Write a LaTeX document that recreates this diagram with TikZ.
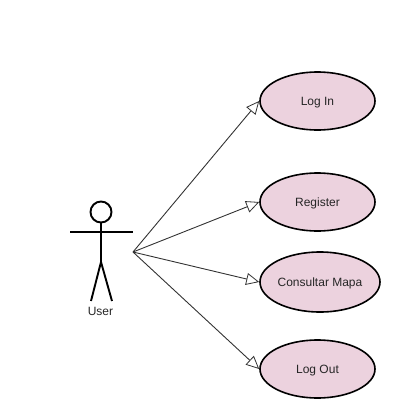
\documentclass[tikz,border=0pt]{standalone}
\usepackage{fontspec}
\setmainfont{Liberation Sans}
\usetikzlibrary{arrows.meta,shapes.geometric}
\definecolor{ucfill}{RGB}{236,210,222}
\tikzset{
  usecase/.style={ellipse,draw=black,line width=1.6pt,fill=ucfill,inner sep=0pt,font=\fontsize{12}{14}\selectfont,text=black!85,text height=8.6pt,text depth=0pt},
  actorline/.style={draw=black,line width=1.9pt},
  assoc/.style={draw=black!80,line width=0.9pt,-{Triangle[open,fill=white,length=13pt,width=12pt,line width=0.8pt]}}
}
\begin{document}
\begin{tikzpicture}[x=1pt,y=-1pt]
\useasboundingbox (0,0) rectangle (405,418);
\node[usecase,minimum width=115pt,minimum height=58pt] (login) at (317.5,101) {Log In};
\node[usecase,minimum width=115pt,minimum height=58pt] (register) at (317.5,202) {Register};
\node[usecase,minimum width=120pt,minimum height=60pt] (mapa) at (320,282) {Consultar Mapa};
\node[usecase,minimum width=115pt,minimum height=58pt] (logout) at (317.5,369) {Log Out};
\node[circle,actorline,minimum size=21pt,inner sep=0pt] (head) at (101,212) {};
\coordinate (armL) at (70,232);
\coordinate (armR) at (133,232);
\coordinate (hip) at (101,262);
\coordinate (footL) at (91,301);
\coordinate (footR) at (112,301);
\coordinate (src) at (133,252);
\draw[actorline] (armL) -- (armR);
\draw[actorline] (head.south) -- (hip);
\draw[actorline] (footL) -- (hip) -- (footR);
\node[font=\fontsize{12}{14}\selectfont,text=black!85,inner sep=0pt] (user) at (100.5,311) {User};
\draw[assoc] (src) -- (login.west);
\draw[assoc] (src) -- (register.west);
\draw[assoc] (src) -- (mapa.west);
\draw[assoc] (src) -- (logout.west);
\end{tikzpicture}
\end{document}
